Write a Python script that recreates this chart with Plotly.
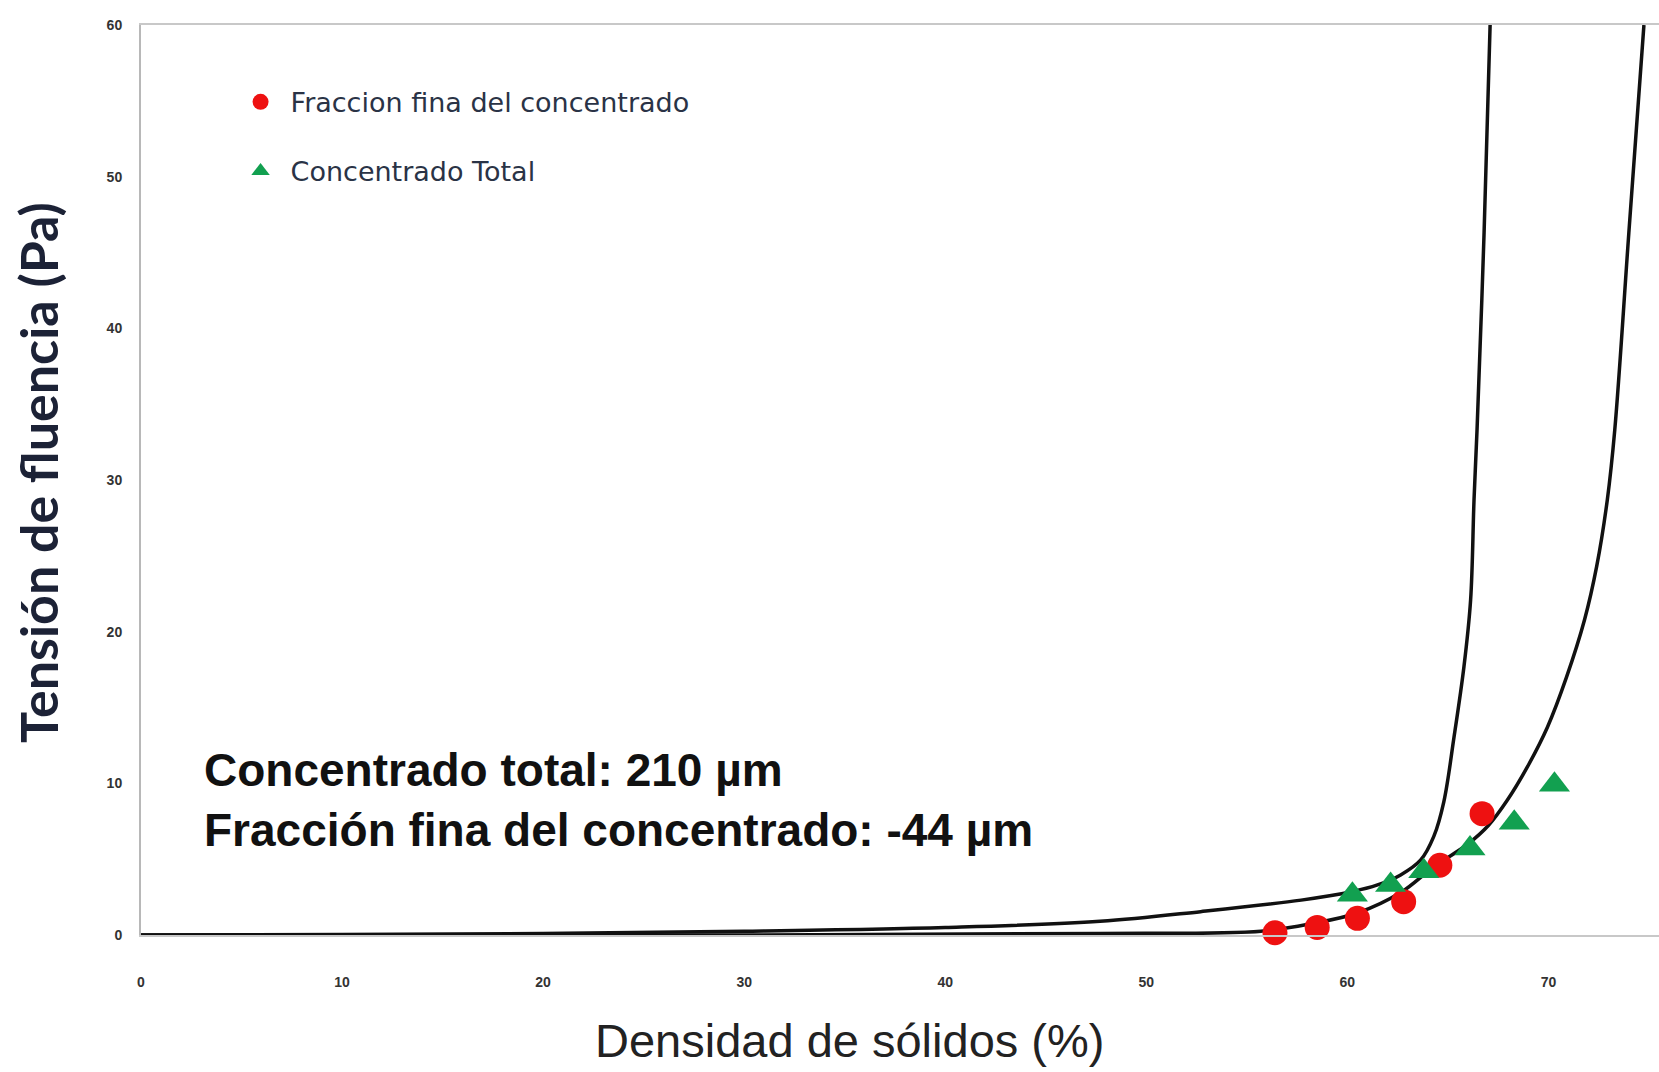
import plotly.graph_objects as go

# Experimental points
fine_x = [56.4, 58.5, 60.5, 62.8, 64.6, 66.7]
fine_y = [0.15, 0.5, 1.1, 2.2, 4.6, 8.0]
total_x = [60.25, 62.15, 63.8, 66.1, 68.3, 70.3]
total_y = [2.66, 3.3, 4.2, 5.7, 7.4, 9.9]

# Fitted curves
curve1_x = [0, 10, 20, 30, 40, 47.7, 52.7, 57.7, 60.2, 61.5, 62.65, 63.65, 64.3, 64.8, 65.3, 65.8, 66.13, 66.3, 66.45, 66.8, 67.1]
curve1_y = [0, 0.03, 0.1, 0.25, 0.5, 0.9, 1.54, 2.3, 2.85, 3.3, 3.96, 4.95, 6.5, 8.8, 13.0, 17.7, 22.1, 28.7, 33.3, 46.3, 60]
curve2_x = [0, 30, 47.7, 55.7, 58.3, 60.5, 62.65, 64.3, 66.0, 67.0, 67.96, 68.96, 69.95, 70.9, 71.8, 72.4, 72.93, 73.3, 74.0, 74.75]
curve2_y = [0, 0, 0.1, 0.25, 0.77, 1.45, 2.8, 4.5, 6.0, 7.2, 8.9, 11.1, 13.7, 17.0, 20.8, 24.3, 28.7, 33.3, 46.3, 60]

x_ticks = [0, 10, 20, 30, 40, 50, 60, 70]
y_ticks = [0, 10, 20, 30, 40, 50, 60]

# plot area in pixels
L, R, T, B = 141, 0, 25, 137
W, H = 1659, 1072
pw, ph = W - L - R, H - T - B

fig = go.Figure()
for cx, cy in [(curve1_x, curve1_y), (curve2_x, curve2_y)]:
    fig.add_trace(go.Scatter(x=cx, y=cy, mode="lines",
                             line=dict(color="#111111", width=3.5, shape="spline", smoothing=1.0),
                             showlegend=False))
fig.add_trace(go.Scatter(x=fine_x, y=fine_y, mode="markers", name="Fraccion fina del concentrado",
                         marker=dict(symbol="circle", color="#ee1111", size=25), cliponaxis=False,
                         legendgroup="a"))
fig.add_trace(go.Scatter(x=total_x, y=total_y, mode="markers", name="Concentrado Total",
                         marker=dict(symbol="triangle-up", color="#12a050", size=27), cliponaxis=False,
                         legendgroup="b"))

fig.add_annotation(x=0.04, y=0.148, xref="paper", yref="paper", xanchor="left", yanchor="middle",
                   text="Concentrado total: 210 µm<br>Fracción fina del concentrado: -44 µm",
                   showarrow=False, align="left",
                   font=dict(family="Liberation Sans, Arial", size=46, color="#111111", weight="bold"))

# axis titles as annotations for exact placement
fig.add_annotation(x=(849 - L) / pw, y=(H - 1040 - B) / ph, xref="paper", yref="paper",
                   xanchor="center", yanchor="middle", showarrow=False,
                   text="Densidad de sólidos (%)",
                   font=dict(family="Liberation Sans, Arial", size=47, color="#222222"))
fig.add_annotation(x=(38 - L) / pw, y=(H - 473 - B) / ph, xref="paper", yref="paper",
                   xanchor="center", yanchor="middle", showarrow=False, textangle=-90,
                   text="Tensión de fluencia (Pa)",
                   font=dict(family="Lato, Liberation Sans", size=52, color="#1c2236", weight="bold"))

fig.update_layout(
    width=W, height=H,
    margin=dict(l=L, r=R, t=T, b=B),
    paper_bgcolor="white", plot_bgcolor="white",
    legend=dict(x=0.059, y=0.942, xanchor="left", yanchor="top", bgcolor="rgba(0,0,0,0)",
                font=dict(family="DejaVu Sans", size=27, color="#2a3346"),
                itemsizing="trace", itemwidth=50, tracegroupgap=31, traceorder="grouped"),
    xaxis=dict(range=[0, 75.5], tickvals=x_ticks, ticktext=[str(v) for v in x_ticks],
               showgrid=False, zeroline=False, showline=True, mirror=True, linecolor="#c8c8c8", linewidth=2,
               ticks="", ticklabelstandoff=33,
               tickfont=dict(family="Liberation Sans, Arial", size=14, color="#333333", weight="bold")),
    yaxis=dict(range=[0, 60], tickvals=y_ticks, ticktext=[str(v) for v in y_ticks],
               showgrid=False, zeroline=False, showline=True, mirror=False, linecolor="#b8b8b8", linewidth=2,
               ticks="", ticklabelstandoff=14,
               tickfont=dict(family="Liberation Sans, Arial", size=14, color="#333333", weight="bold")),
)

fig.write_html("out.html")
